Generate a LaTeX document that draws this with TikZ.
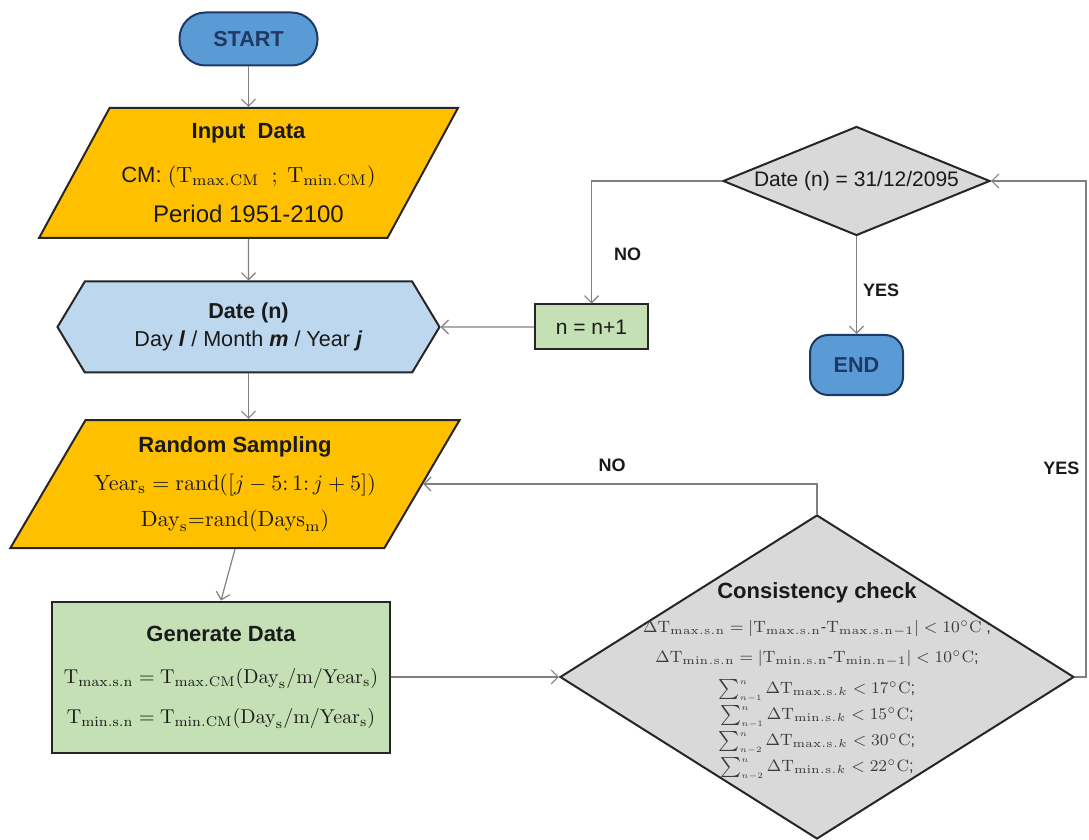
\RequirePackage{fix-cm}
\documentclass[tikz,border=0pt]{standalone}
\usepackage[no-math]{fontspec}
\setmainfont{Liberation Sans}
\usetikzlibrary{shapes.geometric,shapes.symbols,arrows.meta}

\definecolor{edgeC}{HTML}{262626}
\definecolor{lineC}{HTML}{808080}
\definecolor{termC}{HTML}{5B9BD5}
\definecolor{termEdge}{HTML}{1F3864}
\definecolor{ioC}{HTML}{FFC000}
\definecolor{hexC}{HTML}{BDD7EE}
\definecolor{procC}{HTML}{C5E0B4}
\definecolor{decC}{HTML}{D9D9D9}
\definecolor{txtC}{HTML}{1A1A1A}
\definecolor{mathC}{HTML}{3C3C3C}

\tikzset{
  box/.style={draw=edgeC, line width=1pt, text=txtC, inner sep=0pt, align=center},
  term/.style={box, draw=termEdge, fill=termC, text=termEdge,
    font=\fontsize{10.8}{13}\selectfont\bfseries},
  io/.style={box, trapezium, trapezium stretches=true, fill=ioC},
  proc/.style={box, rectangle, fill=procC},
  dec/.style={box, diamond, fill=decC},
  prep/.style={box, signal, signal to=west and east, signal pointer angle=118, fill=hexC},
  arr/.style={->, >={Straight Barb[length=3.5pt,width=7pt]}, draw=lineC, line width=0.6pt},
  lbl/.style={font=\fontsize{9}{11}\selectfont\bfseries, text=txtC, inner sep=1pt}
}
\newcommand{\ttl}[1]{{\fontsize{11}{13}\selectfont\bfseries #1}}
\newcommand{\sumk}[1]{\sum\nolimits^{\scriptscriptstyle n}_{\scriptscriptstyle #1}}

\begin{document}
\begin{tikzpicture}[x=0.5pt, y=-0.5pt]
  \useasboundingbox (0,0) rectangle (1089,840);

  % Define the blocks
  \node[term, rounded corners=13pt, minimum width=69pt, minimum height=26.5pt] (start) at (248.5,39) {START};

  \node[io, trapezium left angle=57, trapezium right angle=123,
        minimum width=210pt, minimum height=65pt,
        font=\fontsize{12}{14}\selectfont] (inp) at (248.5,173)
    {\ttl{Input\ \ Data}\\[8pt]
     {\fontsize{11}{14}\selectfont CM: $(\mathrm{T}_{\mathrm{max.CM}}\ \ ;\ \mathrm{T}_{\mathrm{min.CM}})$}\\[6pt]
     Period 1951-2100};

  \node[prep, minimum width=191pt, minimum height=45.5pt,
        font=\fontsize{10.8}{14}\selectfont] (date) at (248.5,327)
    {\textbf{Date (n)}\\
     Day \textbf{\textit{l}} / Month \textbf{\textit{m}} / Year \textbf{\textit{j}}};

  \node[io, trapezium left angle=53.4, trapezium right angle=126.6,
        minimum width=225pt, minimum height=64pt,
        font=\fontsize{11}{14}\selectfont] (rs) at (235,484)
    {\ttl{Random Sampling}\\[5pt]
     $\mathrm{Year}_{\mathrm{s}} = \mathrm{rand}([j-5{:}\,1{:}\,j+5])$\\[4pt]
     $\mathrm{Day}_{\mathrm{s}}{=}\mathrm{rand}(\mathrm{Days}_{\mathrm{m}})$};

  \node[proc, minimum width=169pt, minimum height=75.5pt,
        font=\fontsize{10}{14}\selectfont] (gen) at (221,677)
    {\ttl{Generate Data}\\[7pt]
     $\mathrm{T}_{\mathrm{max.s.n}} = \mathrm{T}_{\mathrm{max.CM}}(\mathrm{Day}_{\mathrm{s}}/\mathrm{m}/\mathrm{Year}_{\mathrm{s}})$\\[6pt]
     $\mathrm{T}_{\mathrm{min.s.n}} = \mathrm{T}_{\mathrm{min.CM}}(\mathrm{Day}_{\mathrm{s}}/\mathrm{m}/\mathrm{Year}_{\mathrm{s}})$};

  \node[dec, minimum width=257pt, minimum height=162pt] (ck) at (817,677) {};
  \node[align=center, inner sep=0pt, text=mathC, font=\fontsize{8.2}{13}\selectfont] (ckText) at (817,681)
    {{\color{txtC}\ttl{Consistency check}}\\[4pt]
     $\Delta\mathrm{T}_{\mathrm{max.s.n}} = |\mathrm{T}_{\mathrm{max.s.n}}\mbox{-}\mathrm{T}_{\mathrm{max.s.n}-1}| < 10^{\circ}\mathrm{C}$ ;\\[2pt]
     $\Delta\mathrm{T}_{\mathrm{min.s.n}} = |\mathrm{T}_{\mathrm{min.s.n}}\mbox{-}\mathrm{T}_{\mathrm{min.n}-1}| < 10^{\circ}\mathrm{C}$;\\[2.5pt]
     $\sumk{n-1}\Delta\mathrm{T}_{\mathrm{max.s.}k} < 17^{\circ}\mathrm{C}$;\\
     $\sumk{n-1}\Delta\mathrm{T}_{\mathrm{min.s.}k} < 15^{\circ}\mathrm{C}$;\\
     $\sumk{n-2}\Delta\mathrm{T}_{\mathrm{max.s.}k} < 30^{\circ}\mathrm{C}$;\\
     $\sumk{n-2}\Delta\mathrm{T}_{\mathrm{min.s.}k} < 22^{\circ}\mathrm{C}$;};

  \node[dec, aspect=2.45, minimum width=133.5pt, minimum height=54.5pt,
        font=\fontsize{10.5}{12}\selectfont] (dt) at (856.5,181) {Date (n) = 31/12/2095};

  \node[proc, minimum width=56.5pt, minimum height=22.5pt,
        font=\fontsize{10.5}{12}\selectfont] (inc) at (591.5,327) {n = n+1};

  \node[term, rounded corners=9pt, minimum width=46.5pt, minimum height=30pt] (endn) at (856.5,365) {END};

  \coordinate (yesR) at (1086,677);

  % Draw arrows
  \draw[arr] (start) -- (inp);
  \draw[arr] (inp) -- (date);
  \draw[arr] (date.south) -- (date.south |- rs.north);
  \draw[arr] (rs.south) -- (gen.north);
  \draw[arr] (gen) -- (ck);
  \draw[arr] (ck.north) |- (rs) node[lbl, pos=0.76, above=5pt] (noA) {NO};
  \draw[arr] (ck.east) -- (yesR) |- (dt.east) node[lbl, pos=0.21, left=2pt] (yesA) {YES};
  \draw[arr] (dt.west) -| (inc) node[lbl, pos=0.8, right=10pt] (noB) {NO};
  \draw[arr] (dt.south) -- (endn) node[lbl, pos=0.55, right=2pt] (yesB) {YES};
  \draw[arr] (inc) -- (date);
\end{tikzpicture}
\end{document}
